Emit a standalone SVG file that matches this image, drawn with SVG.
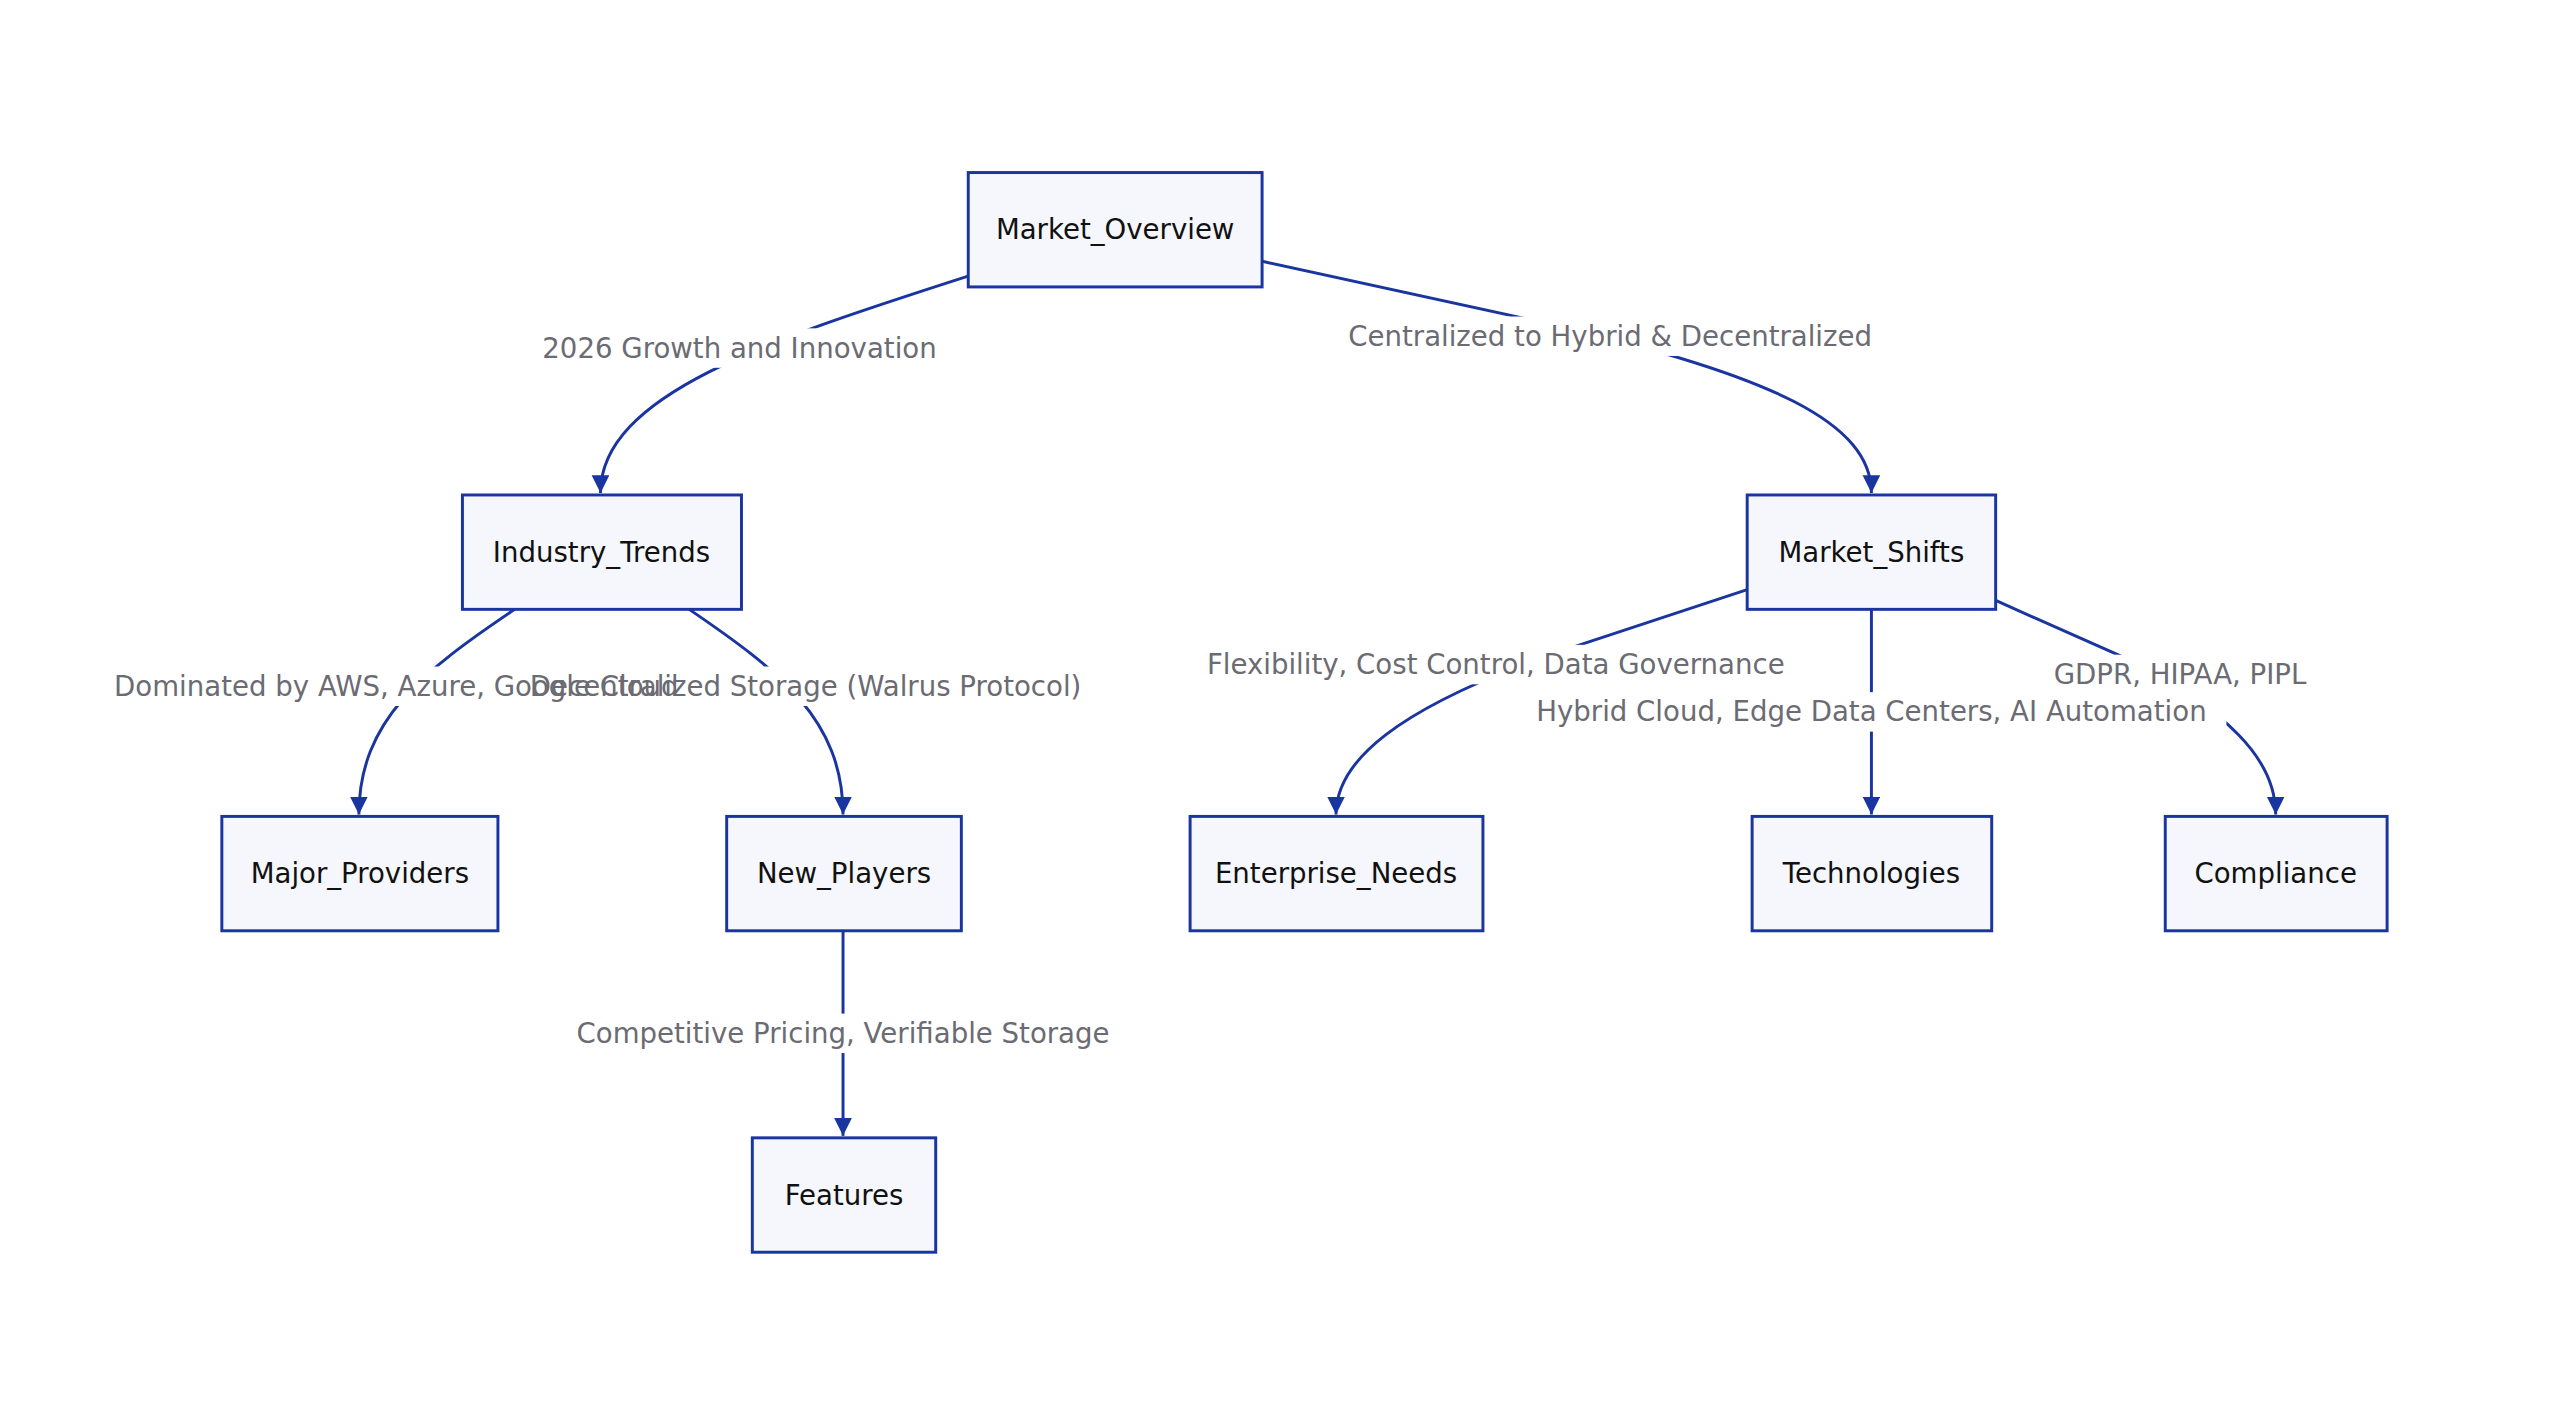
<svg xmlns="http://www.w3.org/2000/svg" width="2560" height="1425" viewBox="0 0 2560 1425">
<style>
.n rect{fill:#f5f7fc;stroke:#1a35a0;stroke-width:3}
.n text{font-family:"DejaVu Sans",sans-serif;font-size:28px;fill:#111;text-anchor:middle;dominant-baseline:central}
.e path{fill:none;stroke:#1a35a0;stroke-width:3}
.l rect{fill:#fff}
.l text{font-family:"DejaVu Sans",sans-serif;font-size:28px;fill:#6b6b73;text-anchor:middle;dominant-baseline:central}
</style>
<defs><marker id="a" markerUnits="userSpaceOnUse" markerWidth="20" markerHeight="20" refX="18" refY="9" orient="auto"><path d="M0,0L18,9L0,18z" fill="#1a35a0"/></marker></defs>
<rect width="2560" height="1425" fill="#fff"/>
<g transform="scale(0.986)">
<g class="e">
<path marker-end="url(#a)" d="M982,280 C780,345 609,400 609,500"/>
<path marker-end="url(#a)" d="M1280,265 L1560,326 C1800,380 1898,430 1898,500"/>
<path marker-end="url(#a)" d="M522,618 C430,680 364,730 364,826"/>
<path marker-end="url(#a)" d="M699,618 C790,680 855,730 855,826"/>
<path marker-end="url(#a)" d="M855,944 L855,1152"/>
<path marker-end="url(#a)" d="M1772,598 L1560,668 C1420,720 1355,770 1355,826"/>
<path marker-end="url(#a)" d="M1898,618 L1898,826"/>
<path marker-end="url(#a)" d="M2024,609 L2150,665 C2260,720 2308,770 2308,826"/>
</g>
<g class="l">
<rect x="540" y="333" width="420" height="40"/>
<rect x="1350" y="321" width="566" height="40"/>
<rect x="100" y="676" width="604" height="40"/>
<rect x="522" y="676" width="590" height="40"/>
<rect x="1210" y="654" width="614" height="40"/>
<rect x="1538" y="702" width="720" height="40"/>
<rect x="2070" y="664" width="282" height="40"/>
<rect x="570" y="1028" width="570" height="40"/>
<text x="750" y="353">2026 Growth and Innovation</text>
<text x="1633" y="341">Centralized to Hybrid &amp; Decentralized</text>
<text x="402" y="696">Dominated by AWS, Azure, Google Cloud</text>
<text x="817" y="696">Decentralized Storage (Walrus Protocol)</text>
<text x="1517" y="674">Flexibility, Cost Control, Data Governance</text>
<text x="1898" y="722">Hybrid Cloud, Edge Data Centers, AI Automation</text>
<text x="2211" y="684">GDPR, HIPAA, PIPL</text>
<text x="855" y="1048">Competitive Pricing, Verifiable Storage</text>
</g>
<g id="Market_Overview" class="n"><rect x="982" y="175" width="298" height="116"/><text x="1131" y="233">Market_Overview</text></g>
<g id="Industry_Trends" class="n"><rect x="469" y="502" width="283" height="116"/><text x="610" y="560">Industry_Trends</text></g>
<g id="Market_Shifts" class="n"><rect x="1772" y="502" width="252" height="116"/><text x="1898" y="560">Market_Shifts</text></g>
<g id="Major_Providers" class="n"><rect x="225" y="828" width="280" height="116"/><text x="365" y="886">Major_Providers</text></g>
<g id="New_Players" class="n"><rect x="737" y="828" width="238" height="116"/><text x="856" y="886">New_Players</text></g>
<g id="Enterprise_Needs" class="n"><rect x="1207" y="828" width="297" height="116"/><text x="1355" y="886">Enterprise_Needs</text></g>
<g id="Technologies" class="n"><rect x="1777" y="828" width="243" height="116"/><text x="1898" y="886">Technologies</text></g>
<g id="Compliance" class="n"><rect x="2196" y="828" width="225" height="116"/><text x="2308" y="886">Compliance</text></g>
<g id="Features" class="n"><rect x="763" y="1154" width="186" height="116"/><text x="856" y="1212">Features</text></g>
</g>
</svg>
